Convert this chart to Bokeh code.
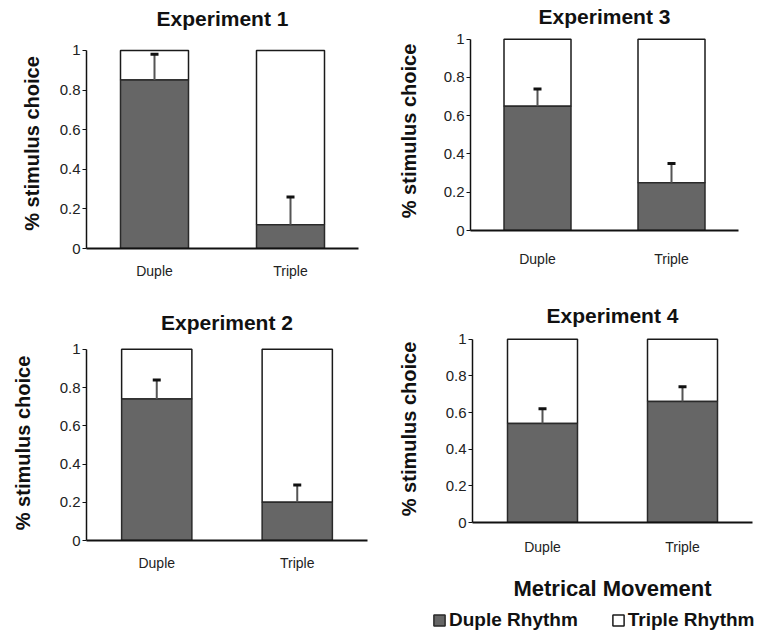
from bokeh.plotting import figure
from bokeh.layouts import row, column
from bokeh.models import Range1d, FixedTicker, Whisker, ColumnDataSource, Legend, LegendItem, TeeHead
from bokeh.embed import file_html
from bokeh.resources import INLINE

# ---- data ----
categories = ["Duple", "Triple"]
y_ticks = [0, 0.2, 0.4, 0.6, 0.8, 1]
y_tick_labels = ["0", "0.2", "0.4", "0.6", "0.8", "1"]

exp1_duple = [0.85, 0.12]
exp1_upper = [0.98, 0.26]
exp2_duple = [0.74, 0.20]
exp2_upper = [0.84, 0.29]
exp3_duple = [0.65, 0.25]
exp3_upper = [0.74, 0.35]
exp4_duple = [0.54, 0.66]
exp4_upper = [0.62, 0.74]
totals = [1, 1]
legend_labels = ["Duple Rhythm", "Triple Rhythm"]

FONT = "Liberation Sans"
DARK = "#666666"


def make_panel(title, duple, upper, width, height, borders, title_top,
               cat_standoff, ylab_standoff, top_end):
    left, right, top, bottom = borders
    p = figure(x_range=categories, y_range=Range1d(0, top_end),
               width=width, height=height, output_backend="svg",
               toolbar_location=None, min_border_left=left,
               min_border_right=right, min_border_top=top,
               min_border_bottom=bottom, title=title)
    p.outline_line_color = None
    p.xgrid.visible = False
    p.ygrid.visible = False
    p.title.text_font = FONT
    p.title.text_font_size = "21px"
    p.title.text_font_style = "bold"
    p.title.text_color = "#111111"
    p.title.align = "center"
    p.title.vertical_align = "top"
    p.title.standoff = title_top

    src = ColumnDataSource(dict(cat=categories, duple=duple, upper=upper, total=totals))
    p.vbar(x="cat", bottom="duple", top="total", width=0.5, source=src,
           fill_color="white", line_color="#1a1a1a", line_width=1.5)
    p.vbar(x="cat", bottom=0, top="duple", width=0.5, source=src,
           fill_color=DARK, line_color="#2a2a2a", line_width=1.5)
    wh = Whisker(source=src, base="cat", lower="duple", upper="upper",
                 line_color="#555555", line_width=2, level="overlay",
                 upper_head=TeeHead(size=8, line_color="#111111", line_width=3),
                 lower_head=None)
    p.add_layout(wh)

    ya = p.yaxis[0]
    ya.ticker = FixedTicker(ticks=y_ticks)
    ya.major_label_overrides = {t: l for t, l in zip(y_ticks, y_tick_labels)}
    ya.bounds = (0, 1)
    ya.axis_label = "% stimulus choice"
    ya.axis_label_text_font = FONT
    ya.axis_label_text_font_size = "20px"
    ya.axis_label_text_font_style = "bold"
    ya.axis_label_text_color = "#111111"
    ya.axis_label_standoff = ylab_standoff
    ya.major_label_text_font = FONT
    ya.major_label_text_font_size = "15px"
    ya.major_label_text_color = "#222222"
    ya.major_label_standoff = 2
    ya.major_tick_in = 0
    ya.major_tick_out = 4
    ya.minor_tick_line_color = None
    ya.axis_line_width = 1.5
    ya.axis_line_color = "#111111"
    ya.major_tick_line_color = "#111111"

    xa = p.xaxis[0]
    xa.major_tick_line_color = None
    xa.major_tick_in = 0
    xa.major_tick_out = 0
    xa.minor_tick_line_color = None
    xa.major_label_text_font = FONT
    xa.major_label_text_font_size = "14px"
    xa.major_label_text_color = "#222222"
    xa.major_label_standoff = cat_standoff
    xa.axis_line_width = 2
    xa.axis_line_color = "#111111"
    return p


p1 = make_panel("Experiment 1", exp1_duple, exp1_upper, 380, 292,
                (86, 22, 38, 44), 13, 14, 14, 1.06)
p3 = make_panel("Experiment 3", exp3_duple, exp3_upper, 382, 292,
                (90, 24, 31, 62), 3, 20, 21, 1.04)
p2 = make_panel("Experiment 2", exp2_duple, exp2_upper, 380, 341,
                (86, 13, 53, 93), 19, 14, 23, 1.02)
p4 = make_panel("Experiment 4", exp4_duple, exp4_upper, 382, 311,
                (92, 10, 43, 79), 13, 16, 23, 1.02)

xa4 = p4.xaxis[0]
xa4.axis_label = "Metrical Movement"
xa4.axis_label_text_font = FONT
xa4.axis_label_text_font_size = "22px"
xa4.axis_label_text_font_style = "bold"
xa4.axis_label_text_color = "#111111"
xa4.axis_label_standoff = 18

# legend strip under Experiment 4
leg = figure(width=382, height=30, x_range=legend_labels, y_range=Range1d(5, 6),
             output_backend="svg", toolbar_location=None,
             x_axis_location=None, y_axis_location=None,
             min_border_left=0, min_border_right=0, min_border_top=0,
             min_border_bottom=0)
leg.outline_line_color = None
leg.xgrid.visible = False
leg.ygrid.visible = False
leg_src = ColumnDataSource(dict(x=legend_labels, top=totals))
r_duple = leg.vbar(x="x", top="top", width=0.1, source=leg_src,
                   fill_color=DARK, line_color="#2a2a2a", line_width=1.5)
r_triple = leg.vbar(x="x", top="top", width=0.1, source=leg_src,
                    fill_color="white", line_color="#1a1a1a", line_width=1.5)
r_duple.visible = False
r_triple.visible = False
legend = Legend(items=[LegendItem(label=legend_labels[0], renderers=[r_duple]),
                       LegendItem(label=legend_labels[1], renderers=[r_triple])],
                orientation="horizontal", location=(52, 2),
                label_text_font=FONT, label_text_font_size="19px",
                label_text_font_style="bold", label_text_color="#111111",
                glyph_width=14, glyph_height=14, label_standoff=3,
                label_height=18, spacing=33, padding=0, margin=0,
                border_line_color=None, background_fill_alpha=0,
                inactive_fill_alpha=0)
leg.add_layout(legend)

layout = row(column(row(p1), row(p2)), column(row(p3), row(p4), row(leg)))

open("out.html", "w").write(file_html(layout, INLINE))
